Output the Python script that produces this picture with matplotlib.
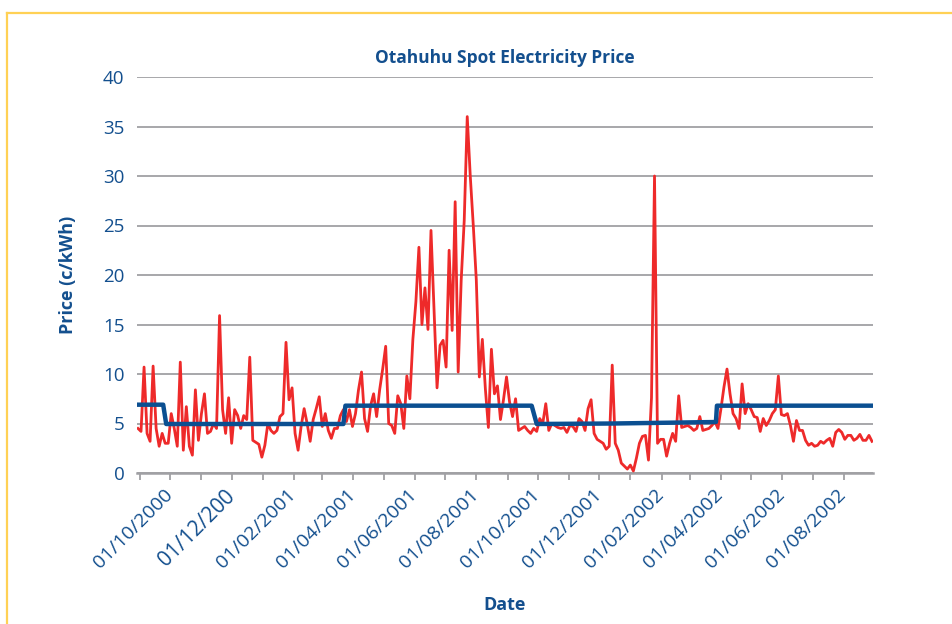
import pandas as pd
import matplotlib.pyplot as plt
import matplotlib.dates as mdates
from matplotlib.ticker import FixedLocator
from matplotlib.lines import Line2D
from matplotlib.transforms import ScaledTranslation

plt.rcParams['font.family'] = ['Open Sans', 'DejaVu Sans']

TEXT = '#134f8e'
GRID = '#a0a0a4'

# -------------------------------
# Data
# -------------------------------
# spot price, one reading every 3 days from 30/08/2000
spot_start = '2000-08-30'
spot_price = [
    4.5, 4.2, 10.7, 4.0, 3.2, 10.8, 4.5, 2.7, 4.0, 3.0,
    3.0, 6.0, 4.5, 2.7, 11.2, 2.3, 6.7, 2.7, 1.8, 8.4,
    3.3, 6.0, 8.0, 4.0, 4.2, 5.0, 4.5, 15.9, 6.4, 4.0,
    7.6, 3.0, 6.4, 5.8, 4.5, 5.8, 5.4, 11.7, 3.3, 3.1,
    2.9, 1.6, 2.8, 5.0, 4.3, 4.0, 4.3, 5.7, 6.0, 13.2,
    7.4, 8.6, 4.0, 2.3, 4.7, 6.5, 5.0, 3.2, 5.4, 6.5,
    7.7, 4.7, 6.0, 4.3, 3.5, 4.5, 4.5, 5.8, 6.4, 5.2,
    6.4, 4.7, 6.0, 8.4, 10.2, 5.5, 4.2, 6.8, 8.0, 5.7,
    8.4, 10.5, 12.8, 5.0, 4.8, 4.0, 7.8, 7.0, 4.5, 9.8,
    7.5, 13.5, 17.3, 22.8, 15.0, 18.7, 14.5, 24.5, 16.5, 8.6,
    12.9, 13.4, 10.7, 22.5, 14.4, 27.4, 10.2, 19.5, 25.5, 36.0,
    30.0, 25.0, 19.5, 9.7, 13.5, 8.5, 4.6, 12.5, 8.0, 8.8,
    5.4, 7.4, 9.7, 7.2, 5.7, 7.5, 4.3, 4.5, 4.7, 4.3,
    4.0, 4.5, 4.2, 5.5, 5.0, 7.0, 4.3, 5.0, 4.8, 4.6,
    4.5, 4.6, 4.1, 4.8, 4.7, 4.2, 5.5, 5.2, 4.3, 6.5,
    7.4, 4.0, 3.4, 3.2, 3.0, 2.4, 2.7, 10.9, 3.0, 2.3,
    1.0, 0.7, 0.4, 0.8, 0.2, 1.5, 3.0, 3.7, 3.8, 1.3,
    7.6, 30.0, 3.0, 3.4, 3.4, 1.7, 3.0, 4.0, 3.2, 7.8,
    4.6, 4.7, 4.8, 4.6, 4.3, 4.5, 5.7, 4.3, 4.4, 4.5,
    4.8, 5.2, 4.5, 6.5, 8.7, 10.5, 8.0, 6.0, 5.5, 4.5,
    9.0, 6.0, 7.0, 6.4, 5.7, 5.6, 4.2, 5.5, 4.8, 5.3,
    6.0, 6.4, 9.8, 5.9, 5.8, 6.0, 4.8, 3.2, 5.3, 4.3,
    4.3, 3.3, 2.8, 3.0, 2.7, 2.8, 3.2, 3.0, 3.3, 3.5,
    2.7, 4.1, 4.4, 4.1, 3.4, 3.8, 3.8, 3.3, 3.5, 3.9,
    3.3, 3.3, 3.8, 3.2,
]

# stepped reference price
step_dates = ['2000-08-29', '2000-09-24', '2000-09-27', '2001-03-22',
              '2001-03-24', '2001-09-25', '2001-09-30', '2001-12-15',
              '2002-03-27', '2002-03-28', '2002-08-30']
step_price = [6.9, 6.9, 4.95, 4.95, 6.8, 6.8, 4.95, 5.0, 5.15, 6.8, 6.8]

tick_dates = ['2000-10-01', '2000-12-01', '2001-02-01', '2001-04-01',
              '2001-06-01', '2001-08-01', '2001-10-01', '2001-12-01',
              '2002-02-01', '2002-04-01', '2002-06-01', '2002-08-01']
tick_labels = ['01/10/2000', '01/12/200', '01/02/2001', '01/04/2001',
               '01/06/2001', '01/08/2001', '01/10/2001', '01/12/2001',
               '01/02/2002', '01/04/2002', '01/06/2002', '01/08/2002']

dates = pd.date_range(spot_start, periods=len(spot_price), freq='3D')

# -------------------------------
# Chart
# -------------------------------
fig = plt.figure(figsize=(9.53, 6.24), dpi=100)
ax = fig.add_axes([137/953, 1 - 473/624, 736/953, 396/624])

ax.plot(dates, spot_price, color='#ee2a2a', lw=2.0, zorder=3)
ax.plot(pd.to_datetime(step_dates), step_price, color='#0b4f91', lw=3.2, zorder=4)

ax.set_xlim(pd.Timestamp('2000-08-29'), pd.Timestamp('2002-08-30'))
ax.set_ylim(0, 40)
ax.set_yticks(range(0, 41, 5))
ax.yaxis.grid(True, color=GRID, lw=1.3)
ax.set_axisbelow(True)

for s in ['left', 'right', 'top']:
    ax.spines[s].set_visible(False)
ax.spines['bottom'].set_color(GRID)
ax.spines['bottom'].set_linewidth(1.8)

ax.tick_params(axis='y', length=0, pad=9, labelsize=13.5, labelcolor=TEXT)

ax.xaxis.set_major_locator(FixedLocator(mdates.date2num(pd.to_datetime(tick_dates))))
ax.set_xticklabels(tick_labels, rotation=45, ha='right', rotation_mode='anchor')
ax.xaxis.set_minor_locator(mdates.MonthLocator())
ax.tick_params(axis='x', which='both', length=5, width=1.3, color=GRID,
               labelsize=14, labelcolor=TEXT, pad=4)
ax.get_xticklabels()[1].set_fontsize(15)
shift = ScaledTranslation(-7/100, 0, fig.dpi_scale_trans)
for lab in ax.get_xticklabels():
    lab.set_transform(lab.get_transform() + shift)

fig.text(505/953, 1 - 58/624, 'Otahuhu Spot Electricity Price', ha='center', va='center',
         fontsize=12.5, fontweight='bold', color=TEXT)
fig.text(68/953, 1 - 275/624, 'Price (c/kWh)', ha='center', va='center', rotation=90,
         fontsize=13, fontweight='bold', color=TEXT)
fig.text(505/953, 1 - 605/624, 'Date', ha='center', va='center',
         fontsize=13, fontweight='bold', color=TEXT)

# yellow frame
fig.add_artist(Line2D([7.5/953, 7.5/953], [-0.02, 1 - 12.5/624], color='#ffd155', lw=1.6,
                      transform=fig.transFigure))
fig.add_artist(Line2D([7/953, 1.02], [1 - 12.5/624, 1 - 12.5/624], color='#ffd155', lw=1.6,
                      transform=fig.transFigure))

plt.savefig('out.png', dpi=100)
plt.close()
